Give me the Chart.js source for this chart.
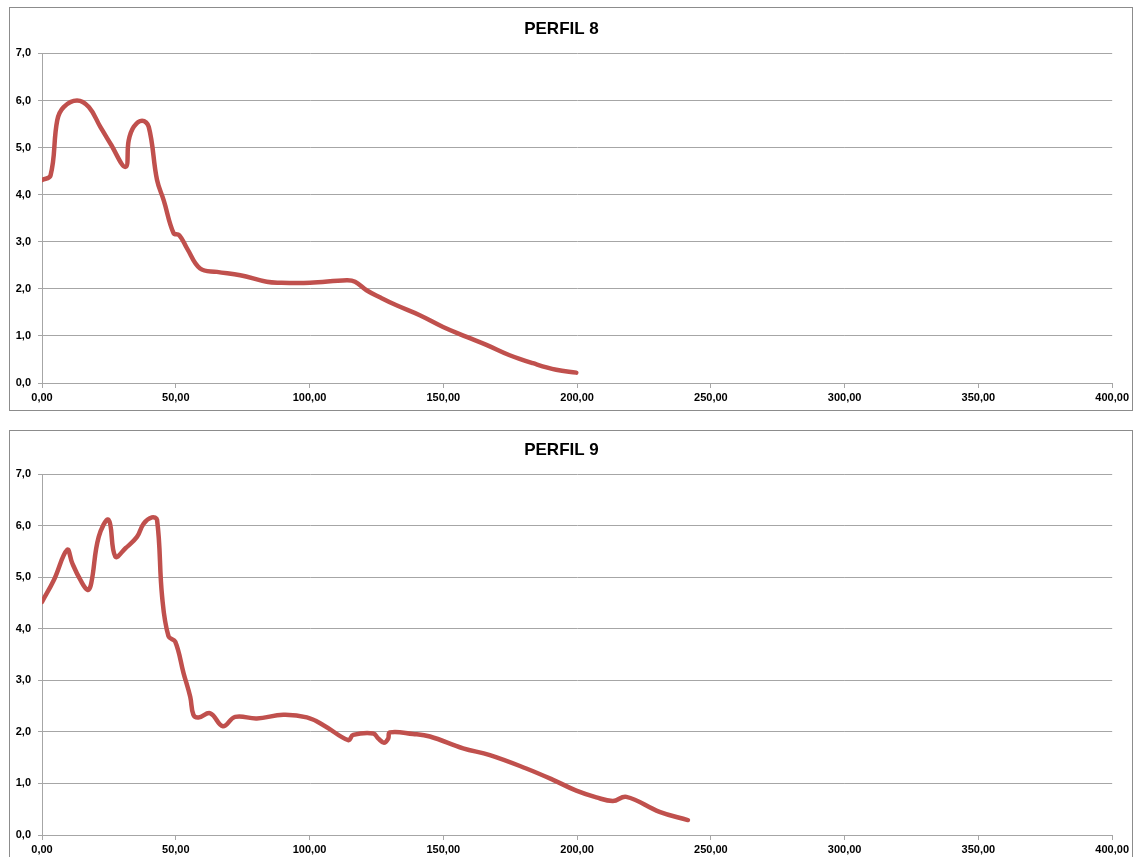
<!DOCTYPE html>
<html>
<head>
<meta charset="utf-8">
<title>Perfiles</title>
<script src="https://cdn.jsdelivr.net/npm/chart.js@4/dist/chart.umd.min.js"></script>
<style>
    body { margin: 0; background: #fff; }
    .box { position: absolute; left: 9px; width: 1122px; border: 1px solid #8c8c8c; background: #fff; }
    #box8 { top: 7px; height: 402px; }
    #box9 { top: 430px; height: 431px; }
</style>
</head>
<body>
<div class="box" id="box8"><canvas id="perfil8"></canvas></div>
<div class="box" id="box9"><canvas id="perfil9"></canvas></div>
<script>
// distancia (m) y profundidad
const x8 = [0, 3.2, 5.7, 8.1, 13.1, 17.5, 21.8, 25.6, 31.2, 32.4, 34.3, 37.4, 39.9, 43.0, 45.5, 49.2, 51.3, 54.2, 59.1, 65.4, 74.1, 84.0, 89.0, 100.2, 113.9, 117.0, 121.3, 126.3, 132.5, 141.2, 149.9, 158.7, 166.1, 174.8, 183.5, 192.2, 199.7];
const y8 = [4.31, 4.41, 5.58, 5.86, 6.0, 5.86, 5.44, 5.08, 4.59, 5.15, 5.44, 5.57, 5.44, 4.31, 3.88, 3.18, 3.14, 2.86, 2.43, 2.36, 2.29, 2.15, 2.13, 2.13, 2.18, 2.15, 1.97, 1.82, 1.65, 1.44, 1.19, 0.98, 0.81, 0.59, 0.42, 0.28, 0.22];

const x9 = [0, 4.4, 9.4, 11.3, 14.4, 17.1, 18.4, 21.2, 24.9, 27.4, 31.2, 35.5, 38.0, 41.1, 43.0, 44.9, 47.3, 49.8, 52.9, 55.4, 56.6, 58.5, 62.9, 67.6, 72.2, 80.3, 90.2, 99.0, 105.2, 114.5, 116.3, 123.8, 125.7, 127.8, 129.4, 130.0, 138.7, 145.0, 157.4, 167.4, 181.0, 191.0, 199.7, 207.2, 213.4, 218.4, 230.8, 241.4];
const y9 = [4.52, 4.94, 5.53, 5.27, 4.94, 4.75, 4.88, 5.78, 6.11, 5.40, 5.56, 5.78, 6.04, 6.16, 6.11, 4.62, 3.85, 3.75, 3.14, 2.68, 2.33, 2.28, 2.36, 2.11, 2.29, 2.26, 2.33, 2.28, 2.13, 1.84, 1.94, 1.97, 1.87, 1.79, 1.87, 1.99, 1.96, 1.91, 1.68, 1.55, 1.29, 1.07, 0.86, 0.73, 0.66, 0.74, 0.45, 0.29];

const yMin = 0, yMax = 7, yStep = 1;
const xMin = 0, xMax = 400, xStep = 50;

const gridColor = '#a6a6a6';
const tickFont = { family: 'Liberation Sans', size: 11, weight: 'bold' };

function comma(v, d) {
    return Number(v).toFixed(d).replace('.', ',');
}

function makeChart(id, title, xs, ys, padTop, padBottom) {
    const points = xs.map((x, i) => ({ x: x, y: ys[i] }));
    return new Chart(document.getElementById(id), {
        type: 'line',
        data: {
            datasets: [{
                label: title,
                data: points,
                borderColor: '#c0504d',
                borderWidth: 4.5,
                borderCapStyle: 'round',
                borderJoinStyle: 'round',
                pointRadius: 0,
                tension: 0.4,
                fill: false
            }]
        },
        options: {
            responsive: true,
            maintainAspectRatio: false,
            animation: false,
            layout: { padding: { right: 19 } },
            plugins: {
                legend: { display: false },
                tooltip: { enabled: false },
                title: {
                    display: true,
                    text: title,
                    color: '#000',
                    font: { family: 'Liberation Sans', size: 17, weight: 'bold' },
                    padding: { top: padTop, bottom: padBottom }
                }
            },
            scales: {
                x: {
                    type: 'linear',
                    min: xMin,
                    max: xMax,
                    border: { color: gridColor },
                    grid: { drawOnChartArea: false, color: gridColor, tickLength: 5 },
                    ticks: {
                        stepSize: xStep,
                        color: '#000',
                        font: tickFont,
                        padding: 3,
                        maxRotation: 0,
                        callback: v => comma(v, 2)
                    },
                    afterFit: s => { s.height = 27; }
                },
                y: {
                    min: yMin,
                    max: yMax,
                    border: { color: gridColor },
                    grid: { color: gridColor, tickLength: 4 },
                    ticks: {
                        stepSize: yStep,
                        color: '#000',
                        font: tickFont,
                        padding: 7,
                        callback: v => comma(v, 1)
                    },
                    afterFit: s => { s.width = 32; }
                }
            }
        }
    });
}

makeChart('perfil8', 'PERFIL 8', x8, y8, 11, 14);
makeChart('perfil9', 'PERFIL 9', x9, y9, 9, 13.6);
</script>
</body>
</html>
